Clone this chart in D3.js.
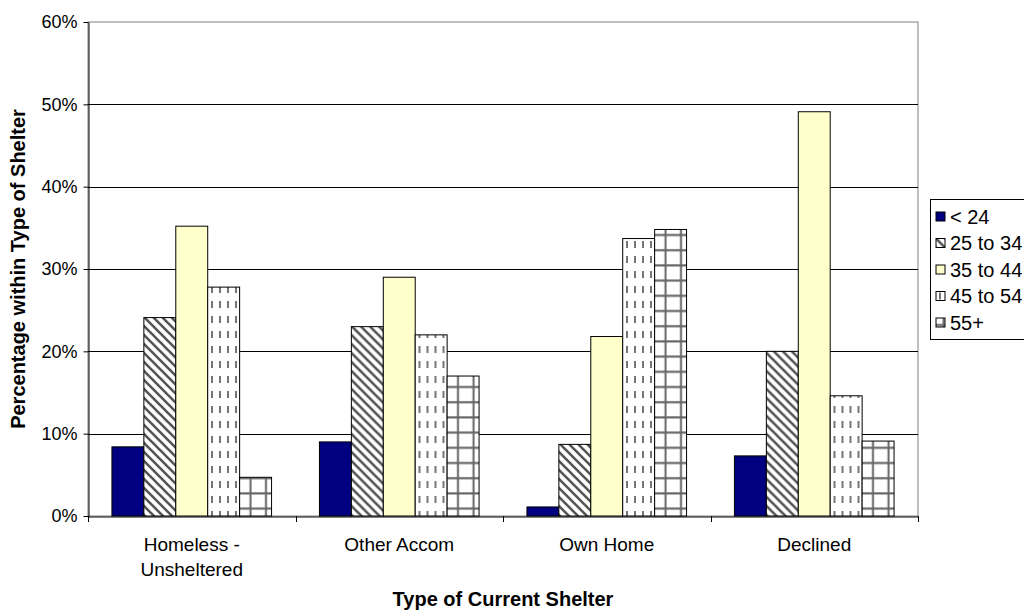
<!DOCTYPE html>
<html>
<head>
<meta charset="utf-8">
<script src="https://cdn.jsdelivr.net/npm/d3@7"></script>
<style>
  html, body { margin: 0; padding: 0; background: #fff; }
  svg { display: block; font-family: "Liberation Sans", Arial, sans-serif; }
</style>
</head>
<body>
<svg id="chart" width="1024" height="612"></svg>
<script>
// Shelter types along the x axis
const categories = ["Homeless - Unsheltered", "Other Accom", "Own Home", "Declined"];
const categoryLines = [["Homeless -", "Unsheltered"], ["Other Accom"], ["Own Home"], ["Declined"]];

// Age groups (series)
const ageGroups = ["< 24", "25 to 34", "35 to 44", "45 to 54", "55+"];

// Percentage within type of shelter, one array per age group
const under24   = [8.4, 9.0, 1.1, 7.3];
const age25to34 = [24.1, 23.0, 8.7, 20.0];
const age35to44 = [35.2, 29.0, 21.8, 49.1];
const age45to54 = [27.8, 22.0, 33.7, 14.6];
const age55plus = [4.7, 17.0, 34.8, 9.1];

const yTicks = [0, 10, 20, 30, 40, 50, 60];

const seriesValues = [under24, age25to34, age35to44, age45to54, age55plus];

const svg = d3.select("#chart");
const defs = svg.append("defs");

// Fill patterns for the hatched series
const diag = defs.append("pattern").attr("id", "pat-diag")
  .attr("patternUnits", "userSpaceOnUse").attr("width", 9).attr("height", 9);
diag.append("rect").attr("width", 9).attr("height", 9).attr("fill", "#fff");
diag.append("path").attr("d", "M-1,-1 L10,10 M-1,8 L1,10 M8,-1 L10,1")
  .attr("stroke", "#555").attr("stroke-width", 2.6);

const dash = defs.append("pattern").attr("id", "pat-dash")
  .attr("patternUnits", "userSpaceOnUse").attr("width", 8).attr("height", 15);
dash.append("rect").attr("width", 8).attr("height", 15).attr("fill", "#fff");
dash.append("line").attr("x1", 4).attr("x2", 4).attr("y1", 1).attr("y2", 8)
  .attr("stroke", "#666").attr("stroke-width", 1.8);

const grid = defs.append("pattern").attr("id", "pat-grid")
  .attr("patternUnits", "userSpaceOnUse").attr("width", 15.5).attr("height", 15.2);
grid.append("rect").attr("width", 15.5).attr("height", 15.2).attr("fill", "#fff");
grid.append("path").attr("d", "M7.5,0 V15.2 M0,7 H15.5")
  .attr("stroke", "#666").attr("stroke-width", 2);

const fills = ["#000080", "url(#pat-diag)", "#FFFFCC", "url(#pat-dash)", "url(#pat-grid)"];

const plot = { left: 88, right: 918, top: 22, bottom: 516 };

const x0 = d3.scaleBand().domain(categories).range([plot.left, plot.right]).padding(0);
const x1 = d3.scaleBand().domain(ageGroups).range([0, x0.bandwidth()])
  .paddingInner(0).paddingOuter(0.75);
const y = d3.scaleLinear().domain([0, 60]).range([plot.bottom, plot.top]);

// Plot area frame
svg.append("rect")
  .attr("x", plot.left).attr("y", plot.top)
  .attr("width", plot.right - plot.left).attr("height", plot.bottom - plot.top)
  .attr("fill", "#fff").attr("stroke", "#808080").attr("stroke-width", 1);

// Horizontal gridlines
svg.append("g").selectAll("line")
  .data(yTicks.filter(t => t > 0 && t < 60))
  .join("line")
  .attr("x1", plot.left).attr("x2", plot.right)
  .attr("y1", d => Math.round(y(d)) + 0.5).attr("y2", d => Math.round(y(d)) + 0.5)
  .attr("stroke", "#000").attr("stroke-width", 1);

// Bars
const groups = svg.append("g").selectAll("g")
  .data(categories)
  .join("g")
  .attr("transform", d => `translate(${x0(d)},0)`);

groups.selectAll("rect")
  .data((c, ci) => ageGroups.map((a, si) => ({ age: a, si, value: seriesValues[si][ci] })))
  .join("rect")
  .attr("x", d => x1(d.age))
  .attr("y", d => y(d.value))
  .attr("width", x1.bandwidth())
  .attr("height", d => y(0) - y(d.value))
  .attr("fill", d => fills[d.si])
  .attr("stroke", "#000")
  .attr("stroke-width", 1);

// Y axis
const yAxis = svg.append("g")
  .attr("transform", `translate(${plot.left + 0.5},0)`)
  .call(d3.axisLeft(y).tickValues(yTicks).tickSize(5).tickPadding(6).tickSizeOuter(0)
    .tickFormat(d => d + "%"));
yAxis.attr("font-size", null).attr("font-family", null);
yAxis.select(".domain").attr("stroke", "#000");
yAxis.selectAll(".tick line").attr("stroke", "#000");
yAxis.selectAll(".tick text")
  .attr("font-size", 18).attr("fill", "#000");

// X axis
const xAxis = svg.append("g")
  .attr("transform", `translate(0,${plot.bottom + 0.5})`)
  .call(d3.axisBottom(x0).tickSize(0).tickSizeOuter(0).tickFormat(""));
xAxis.select(".domain").attr("stroke", "#000");

// Tick marks between categories
svg.append("g").selectAll("line")
  .data(d3.range(categories.length + 1))
  .join("line")
  .attr("x1", i => Math.round(plot.left + i * x0.step()) + 0.5)
  .attr("x2", i => Math.round(plot.left + i * x0.step()) + 0.5)
  .attr("y1", plot.bottom).attr("y2", plot.bottom + 6)
  .attr("stroke", "#000");

// Category labels
const catLabels = svg.append("g").selectAll("text")
  .data(categories)
  .join("text")
  .attr("x", d => x0(d) + x0.bandwidth() / 2)
  .attr("y", 551)
  .attr("text-anchor", "middle")
  .attr("font-size", 19)
  .attr("fill", "#000");
catLabels.each(function(d, i) {
  d3.select(this).selectAll("tspan")
    .data(categoryLines[i])
    .join("tspan")
    .attr("x", x0(d) + x0.bandwidth() / 2)
    .attr("dy", (t, j) => j === 0 ? 0 : 25)
    .text(t => t);
});

// Axis titles
svg.append("text")
  .attr("x", (plot.left + plot.right) / 2)
  .attr("y", 606)
  .attr("text-anchor", "middle")
  .attr("font-size", 20).attr("font-weight", "bold")
  .text("Type of Current Shelter");

svg.append("text")
  .attr("transform", `translate(25,${(plot.top + plot.bottom) / 2}) rotate(-90)`)
  .attr("text-anchor", "middle")
  .attr("font-size", 20).attr("font-weight", "bold")
  .text("Percentage within Type of Shelter");

// Legend
const legend = svg.append("g").attr("transform", "translate(930,199)");
legend.append("rect")
  .attr("x", 0.5).attr("y", 0.5).attr("width", 110).attr("height", 140)
  .attr("fill", "#fff").attr("stroke", "#000");
const items = legend.selectAll("g.item")
  .data(ageGroups)
  .join("g")
  .attr("class", "item")
  .attr("transform", (d, i) => `translate(6,${13 + i * 26.5})`);
items.append("rect")
  .attr("width", 9).attr("height", 9)
  .attr("fill", (d, i) => fills[i])
  .attr("stroke", "#000");
items.append("text")
  .attr("x", 14).attr("y", 11.5)
  .attr("font-size", 20)
  .attr("fill", "#000")
  .text(d => d);
</script>
</body>
</html>
